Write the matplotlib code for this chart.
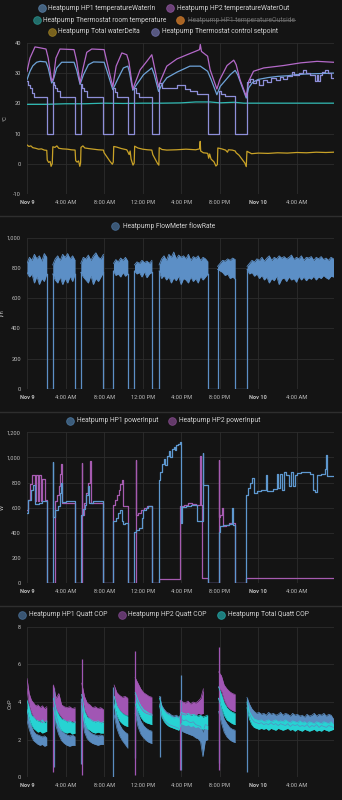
import numpy as np
import matplotlib
matplotlib.use("Agg")
import matplotlib.pyplot as plt
from matplotlib.lines import Line2D

plt.rcParams['font.family'] = ['Roboto', 'DejaVu Sans']

# ------------------------------------------------------------------ data
x_end_hours = 31.8
x_tick_hours = [0, 4, 8, 12, 16, 20, 24, 28]
x_tick_labels = ["Nov 9", "4:00 AM", "8:00 AM", "12:00 PM", "4:00 PM", "8:00 PM", "Nov 10", "4:00 AM"]
x_tick_bold = ["Nov 9", "Nov 10"]

# ---- panel 1: temperatures (°C)
temp_names = ["Heatpump HP1 temperatureWaterIn", "Heatpump HP2 temperatureWaterOut",
              "Heatpump Thermostat room temperature", "Heatpump HP1 temperatureOutside",
              "Heatpump Total waterDelta", "Heatpump Thermostat control setpoint"]
temp_hidden = ["Heatpump HP1 temperatureOutside"]
temp_yticks = [-10, 0, 10, 20, 30, 40]

water_in_t = [0, 0.31, 0.6, 1.0, 1.35, 1.97, 2.2, 2.56, 2.7, 3.08, 3.6, 4.88, 5.16, 5.51, 5.85, 6.37, 6.9,
              8.0, 8.28, 8.9, 9.4, 10.0, 10.46, 10.62, 10.98, 11.4, 12.1, 12.95, 13.2, 13.65, 14.0, 14.5,
              15.55, 16.9, 17.98, 18.74, 19.1, 19.7, 20.05, 21.1, 21.6, 21.85, 22.75, 23.0, 23.4, 24.0,
              25.0, 26.0, 27.0, 28.0, 29.0, 30.0, 31.0, 31.8]
water_in_v = [27.9, 30.7, 32.5, 33.7, 34.0, 33.8, 31.8, 26.8, 27.5, 31.8, 33.7, 33.7, 31.0, 26.3, 29.5, 32.9, 33.8,
              33.7, 31.0, 24.6, 28.0, 31.8, 32.4, 30.5, 24.4, 26.4, 29.6, 31.8, 29.6, 24.0, 26.3, 28.5,
              30.4, 32.4, 32.4, 30.7, 28.0, 22.9, 25.7, 29.6, 31.0, 29.6, 21.8, 25.2, 27.0, 28.0,
              28.6, 29.0, 29.2, 29.6, 29.8, 29.9, 30.0, 30.1]

water_out_t = [0, 0.31, 0.83, 1.35, 1.97, 2.2, 2.56, 2.74, 3.0, 3.42, 4.88, 5.16, 5.51, 5.78, 6.2, 6.72,
               8.0, 8.28, 8.9, 9.25, 9.84, 10.35, 10.56, 10.98, 11.22, 11.74, 12.43, 12.95, 13.2, 13.65,
               13.9, 14.5, 15.55, 16.6, 17.45, 17.9, 17.98, 18.1, 18.74, 19.0, 19.7, 20.0, 20.75, 21.45,
               21.7, 22.1, 22.75, 23.0, 23.5, 24.55, 26.6, 28.4, 30.1, 31.8]
water_out_v = [30.7, 35.1, 38.8, 38.5, 38.1, 35.1, 27.4, 28.5, 35.1, 38.1, 37.9, 34.0, 26.8, 31.2, 37.0, 38.1,
               37.9, 34.0, 25.5, 32.4, 36.8, 36.2, 34.0, 24.8, 26.8, 31.2, 34.0, 36.2, 32.4, 25.5,
               27.9, 32.4, 34.8, 36.2, 37.3, 37.9, 39.6, 37.3, 35.7, 31.2, 24.8, 27.9, 32.6, 34.4,
               32.9, 27.9, 22.4, 27.4, 30.7, 31.8, 32.6, 33.5, 34.0, 33.7]

room_t = [0, 2, 4, 6, 8, 10, 12, 14, 16, 17.5, 19, 20, 21.5, 22.5, 25, 31.8]
room_v = [19.7, 19.7, 19.9, 19.9, 20.1, 20.0, 20.1, 20.1, 20.2, 20.5, 20.5, 20.2, 20.4, 20.1, 20.1, 20.1]

delta_t = [0.0, 0.2, 0.4, 0.6, 0.9, 1.2, 1.5, 1.8, 2.05, 2.1, 2.25, 2.4, 2.5, 2.62, 2.68, 2.9, 3.1, 3.3,
           3.7, 4.2, 4.6, 4.99, 5.05, 5.2, 5.35, 5.48, 5.56, 5.6, 5.8, 6.0, 6.4, 6.9, 7.4, 7.93, 8.0,
           8.3, 8.6, 8.85, 8.95, 9.0, 9.3, 9.8, 10.35, 10.45, 10.6, 10.7, 10.8, 11.0, 11.12, 11.17, 11.5,
           12.0, 12.5, 12.95, 13.05, 13.3, 13.55, 13.68, 13.72, 14.0, 14.5, 15.5, 16.5, 17.5, 17.9,
           17.97, 18.02, 18.3, 18.6, 18.75, 18.85, 18.95, 19.1, 19.4, 19.6, 19.75, 19.8, 20.2, 20.6,
           20.8, 20.9, 21.3, 21.6, 21.7, 22.0, 22.3, 22.6, 22.75, 22.82, 23.0, 23.3, 24.0, 25.0, 26.0,
           27.0, 28.0, 29.0, 30.0, 31.0, 31.8]
delta_v = [6.2, 5.7, 5.9, 5.3, 5.1, 4.8, 4.9, 4.5, 4.4, 1.2, 0.4, 0.7, -0.9, 0.0, 5.6, 5.4, 5.9, 5.1,
           4.9, 4.8, 4.6, 4.5, 1.0, 0.5, 0.9, -0.9, 0.2, 5.4, 5.9, 5.2, 5.0, 4.8, 4.6, 4.5, 3.6,
           2.2, 0.8, -0.2, 0.5, 5.7, 5.5, 5.0, 4.6, 4.0, 3.0, 4.2, 1.5, -0.5, 0.2, 5.8, 5.2,
           4.8, 4.6, 4.5, 3.0, 1.5, 0.0, -0.5, 5.3, 4.7, 4.5, 4.6, 4.8, 4.6, 4.9,
           7.4, 4.2, 3.6, 3.5, 3.4, 1.8, 3.2, 1.5, 0.6, -0.8, -0.3, 5.2, 4.9, 4.5,
           3.8, 4.6, 4.5, 4.2, 3.6, 2.8, 1.5, 0.2, -1.0, 4.1, 3.8, 3.3, 3.5, 3.4, 3.6,
           3.5, 3.7, 3.6, 3.8, 3.7, 3.8]

setpoint_t = [0.0, 0.12, 0.35, 0.55, 0.75, 2.05, 2.67, 2.8, 2.95, 3.15, 3.4, 4.99, 5.58, 5.75, 5.95, 6.2,
              7.93, 8.97, 9.15, 9.35, 10.46, 11.15, 11.35, 11.6, 12.96, 13.71, 14.0, 15.55, 16.4, 16.9,
              17.6, 18.77, 19.88, 20.1, 20.5, 21.6, 22.8, 23.1, 23.4, 23.8, 24.1, 24.5, 24.9, 25.3, 25.8,
              26.2, 26.6, 27.0, 27.5, 27.7, 28.2, 28.6, 28.9, 29.4, 29.9, 30.05, 30.2, 30.35, 30.6, 30.9,
              31.2, 31.5, 31.8]
setpoint_v = [27.4, 26.0, 25.2, 23.5, 22.2, 10, 27.0, 26.0, 25.0, 24.0, 22.2, 10, 26.5, 25.0, 24.0, 22.3,
              10, 25.3, 23.8, 22.2, 10, 25.0, 23.5, 22.3, 10, 26.8, 25.3, 26.1, 24.7, 24.0,
              23.1, 10, 24.0, 23.0, 22.4, 10, 27.0, 28.0, 26.8, 27.9, 26.3, 27.9, 27.0, 28.5, 27.8,
              28.8, 28.2, 29.0, 30.4, 29.5, 30.2, 31.0, 30.2, 29.5, 27.5, 29.5, 27.5, 29.6, 30.5, 31.2,
              30.0, 28.5, 28.5]

# ---- panel 2: flow rate (l/h) — on-periods as min/max envelopes of the noisy trace
flow_name = "Heatpump FlowMeter flowRate"
flow_yticks = [0, 200, 400, 600, 800, 1000]
flow_off_value = 0
flow_spans = [(0.0, 2.05), (2.67, 4.99), (5.58, 7.93), (8.97, 10.46), (11.15, 12.96),
              (13.71, 18.77), (19.77, 21.6), (22.83, 31.8)]
flow_hi = [
    [830, 870, 850, 890, 860, 880, 845, 895, 870],
    [820, 860, 880, 850, 890, 870, 895, 860, 880, 850],
    [830, 870, 860, 885, 850, 880, 900, 870, 860, 890],
    [830, 855, 840, 865, 850, 870, 845],
    [820, 840, 830, 850, 835, 845, 830, 850],
    [820, 860, 880, 850, 890, 870, 905, 860, 885, 870, 880, 860, 890, 850, 875, 865, 880, 850, 870, 860, 840],
    [810, 830, 850, 845, 860, 850, 865, 855],
    [810, 830, 850, 840, 860, 850, 870, 845, 865, 880, 850, 870, 860, 880, 865, 875, 860, 870,
     885, 855, 870, 860, 880, 850, 870, 865, 875, 850, 870, 860, 875, 855, 865, 850, 870, 860],
]
flow_lo = [
    [770, 740, 760, 700, 745, 690, 730, 710, 760],
    [760, 720, 700, 740, 690, 730, 700, 745, 710, 760],
    [770, 740, 720, 700, 750, 690, 730, 710, 740, 770],
    [780, 750, 760, 740, 770, 745, 760],
    [780, 760, 770, 740, 775, 735, 760, 770],
    [780, 730, 750, 720, 740, 700, 735, 715, 745, 690, 730, 720, 700, 740, 710, 730, 700, 745, 720, 740, 760],
    [790, 780, 770, 750, 760, 730, 740, 725],
    [790, 760, 770, 745, 760, 730, 750, 720, 740, 700, 730, 715, 745, 690, 725, 735, 710, 740,
     720, 730, 705, 745, 720, 740, 715, 735, 725, 745, 720, 740, 730, 750, 735, 725, 745, 740],
]

# ---- panel 3: power input (W)
power_names = ["Heatpump HP1 powerInput", "Heatpump HP2 powerInput"]
power_yticks = [0, 200, 400, 600, 800, 1000, 1200]
hp1_power_t = [0.0, 0.15, 0.45, 0.65, 0.83, 1.2, 1.6, 2.05, 2.67, 2.72, 2.9, 3.2, 3.45, 3.55, 3.62, 4.0,
               4.5, 4.99, 5.58, 5.8, 6.0, 6.15, 6.3, 6.4, 6.8, 7.3, 7.93, 8.97, 9.2, 9.4, 9.7, 9.85, 10.0,
               10.2, 10.46, 11.15, 11.3, 11.6, 11.9, 12.0, 12.3, 12.6, 12.96, 13.71, 13.85, 14.0, 14.2,
               14.35, 14.5, 14.7, 14.85, 15.0, 15.25, 15.4, 15.5, 15.7, 15.85, 15.95, 16.05, 16.5, 17.0,
               17.6, 18.25, 18.3, 18.77, 19.88, 20.0, 20.3, 20.6, 21.0, 21.27, 21.33, 21.6, 22.75, 22.9,
               23.1, 23.3, 23.5, 23.6, 23.9, 24.3, 24.8, 24.85, 25.5, 25.9, 26.0, 26.3, 26.5, 26.7, 26.9,
               27.2, 27.4, 27.6, 27.8, 28.0, 28.4, 29.0, 29.4, 29.7, 29.9, 30.1, 30.5, 30.9, 31.05, 31.15,
               31.8]
hp1_power_v = [555, 660, 740, 780, 630, 640, 650, 0, 965, 525, 580, 610, 715, 795, 645, 655,
               650, 0, 540, 590, 620, 700, 770, 640, 655, 650, 0, 490, 520, 555, 580, 490, 470,
               475, 0, 410, 420, 435, 520, 580, 600, 615, 0, 820, 880, 950, 985,
               940, 1010, 1050, 1000, 1070, 1085, 1060, 1100, 1110, 1120, 475, 605, 615, 625,
               490, 1035, 780, 0, 410, 450, 460, 465, 470, 600, 465, 0, 700, 760,
               800, 835, 760, 720, 730, 740, 860, 735, 745, 870, 760, 870, 740, 880, 860,
               770, 880, 770, 860, 875, 885, 880, 870, 740, 725, 860, 870, 910, 1020, 850,
               850]
hp2_power_t = [0.0, 0.1, 0.3, 0.5, 0.85, 0.9, 1.15, 1.2, 1.5, 1.55, 1.85, 2.05, 2.9, 3.1, 3.3, 3.45,
               3.55, 3.65, 4.99, 5.68, 5.73, 5.95, 6.15, 6.35, 6.5, 6.55, 6.65, 7.93, 8.97, 9.1, 9.3,
               9.5, 9.7, 9.85, 9.95, 10.46, 11.27, 11.32, 11.5, 11.8, 12.1, 12.4, 12.96, 13.71, 15.9,
               16.3, 16.7, 17.1, 17.5, 17.97, 18.02, 18.2, 18.77, 19.88, 19.93, 20.05, 20.2, 20.3, 20.6,
               21.0, 21.6, 22.75, 31.8]
hp2_power_v = [580, 660, 790, 860, 650, 860, 650, 860, 650, 830, 660, 0, 650, 700, 770, 870,
               945, 640, 0, 955, 545, 640, 720, 800, 880, 970, 640, 0, 620, 660, 700,
               740, 790, 820, 610, 0, 980, 540, 560, 580, 600, 615, 0, 35, 610,
               625, 640, 630, 620, 1010, 620, 37, 0, 980, 525, 540, 595, 450, 465,
               475, 0, 37, 37]

# ---- panel 4: COP — on-periods as min/max envelopes, plus start-up spikes
cop_names = ["Heatpump HP1 Quatt COP", "Heatpump HP2 Quatt COP", "Heatpump Total Quatt COP"]
cop_yticks = [0, 2, 4, 6, 8]
hp1_cop_spans = [(0.0, 2.05), (2.74, 4.99), (5.68, 7.93), (9.04, 10.46), (11.22, 12.96),
                 (13.75, 18.75), (19.88, 21.6), (22.82, 31.8)]
hp1_cop_hi = [
    [3.60, 3.10, 2.70, 2.45, 2.30, 2.25, 2.20, 2.15, 2.20, 2.10],
    [4.50, 3.30, 2.80, 2.45, 2.35, 2.25, 2.20, 2.25, 2.15],
    [4.00, 2.90, 2.55, 2.40, 2.30, 2.25, 2.20, 2.25, 2.20],
    [3.90, 3.20, 2.80, 2.55, 2.40, 2.30],
    [4.00, 3.40, 3.00, 2.75, 2.60, 2.50, 2.45],
    [4.30, 3.80, 3.60, 3.45, 3.40, 3.30, 3.25, 3.30, 3.20, 3.10, 3.00, 3.05, 2.95, 2.90, 2.95, 2.80,
     2.75, 2.70, 2.40, 2.80, 2.75],
    [4.20, 3.60, 3.10, 2.85, 2.65, 2.55, 2.50],
    [4.25, 3.90, 3.65, 3.50, 3.40, 3.45, 3.35, 3.40, 3.30, 3.45, 3.35, 3.40, 3.30, 3.35, 3.45, 3.30,
     3.40, 3.35, 3.25, 3.40, 3.30, 3.35, 3.25, 3.30, 3.20, 3.35, 3.25, 3.30, 3.40, 3.25, 3.35, 3.30,
     3.40, 3.25, 3.35, 3.30, 3.10],
]
hp1_cop_lo = [
    [3.00, 2.55, 2.20, 1.95, 1.85, 1.75, 1.70, 1.75, 1.65, 1.70],
    [3.80, 2.70, 2.25, 1.95, 1.80, 1.70, 1.65, 1.70, 1.70],
    [3.30, 2.40, 2.05, 1.90, 1.80, 1.75, 1.70, 1.75, 1.75],
    [3.30, 2.60, 2.20, 1.95, 1.75, 1.55],
    [3.40, 2.70, 2.30, 2.10, 1.95, 1.85, 1.80],
    [3.90, 3.30, 3.05, 2.90, 2.80, 2.75, 2.70, 2.65, 2.60, 2.50, 2.40, 2.35, 2.30, 2.25, 2.20, 2.10,
     2.05, 1.90, 1.10, 1.95, 2.00],
    [3.50, 2.90, 2.40, 2.15, 2.00, 1.90, 1.85],
    [3.90, 3.40, 3.10, 2.95, 2.90, 2.85, 2.90, 2.80, 2.85, 2.80, 2.90, 2.80, 2.85, 2.75, 2.85, 2.80,
     2.75, 2.85, 2.70, 2.80, 2.75, 2.80, 2.70, 2.75, 2.70, 2.80, 2.65, 2.75, 2.70, 2.80, 2.65, 2.75,
     2.70, 2.65, 2.75, 2.70, 2.65],
]
hp1_cop_spike_t = [2.78, 5.62, 8.97, 11.2, 13.75, 15.93, 19.93, 22.82]
hp1_cop_spike_lo = [0.55, 0.7, 0.03, 1.0, 1.1, 0.4, 0.74, 0.3]
hp1_cop_spike_hi = [4.75, 4.2, 4.8, 3.8, 4.3, 5.43, 4.2, 4.2]

hp2_cop_spans = [(0.0, 2.05), (2.74, 4.99), (5.68, 7.93), (9.04, 10.46), (11.22, 12.96),
                 (15.9, 18.3), (19.88, 21.6)]
hp2_cop_hi = [
    [5.25, 4.45, 4.10, 3.95, 3.80, 3.85, 3.70, 3.80, 3.65, 3.75],
    [4.90, 4.20, 4.45, 3.85, 3.75, 3.70, 3.75, 3.65, 3.70],
    [5.00, 4.30, 3.95, 3.85, 3.70, 3.75, 3.65, 3.70, 3.60],
    [4.90, 4.50, 4.35, 4.25, 4.30, 4.20],
    [5.30, 5.00, 4.70, 4.50, 4.40, 4.30, 4.25],
    [4.10, 4.00, 3.95, 4.05, 3.90, 4.00, 3.95, 4.05, 4.20, 4.70],
    [5.60, 5.40, 4.90, 4.70, 4.55, 4.45, 4.40],
]
hp2_cop_lo = [
    [4.70, 3.80, 3.45, 3.20, 3.10, 3.00, 3.05, 2.90, 3.00, 2.95],
    [4.20, 3.60, 3.40, 3.20, 3.05, 3.00, 2.95, 3.00, 2.90],
    [4.40, 3.60, 3.30, 3.10, 3.00, 2.95, 3.00, 2.90, 2.95],
    [4.30, 3.80, 3.60, 3.45, 3.35, 3.30],
    [4.40, 4.00, 3.70, 3.50, 3.40, 3.35, 3.30],
    [3.40, 3.35, 3.30, 3.40, 3.30, 3.35, 3.30, 3.40, 3.35, 3.40],
    [4.80, 4.60, 4.10, 3.80, 3.65, 3.55, 3.50],
]
hp2_cop_spike_t = [2.67, 5.68, 11.22, 15.9, 19.88]
hp2_cop_spike_lo = [0.3, 0.12, 0.12, 0.4, 0.39]
hp2_cop_spike_hi = [4.9, 6.27, 6.72, 4.1, 6.94]

tot_cop_spans = hp1_cop_spans
tot_cop_hi = [
    [4.10, 3.70, 3.30, 3.20, 3.05, 3.00, 2.95, 3.05, 2.90, 3.00],
    [4.20, 3.60, 3.30, 3.10, 3.05, 2.95, 3.00, 2.90, 2.95],
    [4.40, 3.50, 3.20, 3.10, 3.00, 2.95, 3.00, 2.90, 2.95],
    [4.30, 3.80, 3.55, 3.40, 3.30, 3.25],
    [4.50, 4.10, 3.80, 3.60, 3.50, 3.40, 3.35],
    [4.20, 3.70, 3.50, 3.35, 3.30, 3.20, 3.15, 3.20, 3.10, 3.45, 3.40, 3.35, 3.40, 3.30, 3.35, 3.30,
     3.25, 3.30, 3.20, 3.25, 3.30],
    [4.80, 4.40, 3.95, 3.70, 3.55, 3.45, 3.40],
    [4.00, 3.50, 3.25, 3.10, 3.05, 3.00, 3.05, 2.95, 3.00, 3.05, 2.95, 3.00, 3.05, 2.95, 3.00, 2.95,
     3.05, 2.95, 2.90, 3.00, 2.95, 2.90, 3.00, 2.90, 2.95, 2.85, 2.95, 2.90, 2.85, 2.95, 2.90, 2.85,
     2.95, 2.90, 2.85, 2.95, 2.80],
]
tot_cop_lo = [
    [3.60, 3.10, 2.80, 2.60, 2.50, 2.40, 2.45, 2.35, 2.40, 2.45],
    [3.70, 3.00, 2.70, 2.50, 2.40, 2.35, 2.40, 2.30, 2.35],
    [3.80, 2.90, 2.60, 2.50, 2.40, 2.35, 2.40, 2.35, 2.35],
    [3.80, 3.30, 3.00, 2.85, 2.75, 2.70],
    [3.90, 3.50, 3.20, 3.00, 2.90, 2.85, 2.80],
    [3.80, 3.20, 2.95, 2.80, 2.70, 2.65, 2.60, 2.55, 2.50, 2.85, 2.80, 2.75, 2.80, 2.70, 2.75, 2.65,
     2.70, 2.60, 2.55, 2.60, 2.55],
    [4.20, 3.70, 3.30, 3.05, 2.95, 2.85, 2.80],
    [3.70, 3.10, 2.80, 2.65, 2.60, 2.55, 2.60, 2.55, 2.60, 2.50, 2.60, 2.55, 2.50, 2.60, 2.55, 2.50,
     2.55, 2.60, 2.50, 2.55, 2.45, 2.55, 2.50, 2.45, 2.55, 2.50, 2.45, 2.50, 2.55, 2.45, 2.50, 2.45,
     2.55, 2.50, 2.45, 2.50, 2.55],
]

# ------------------------------------------------------------------ style
W, H = 342, 800
BG = "#141414"
GRID = "#2c2c2c"
SEP = "#2e2e2e"
TICK = "#bdbdbd"
LEG = "#d0d0d0"
C_IN, C_OUT, C_ROOM, C_OUTSIDE = "#6ea3d8", "#b469c9", "#2fb8b2", "#d07a2a"
C_DELTA, C_SET = "#c9a227", "#8e8fd9"
C_FLOW = "#5c8fc6"
C_P1, C_P2 = "#5e98cf", "#a65bb0"
C_COP1, C_COP2, C_COPT = "#5a8cc0", "#a156b4", "#27d3d3"

fig = plt.figure(figsize=(W / 100, H / 100), dpi=100)
fig.patch.set_facecolor(BG)
renderer = fig.canvas.get_renderer()


def fit_size(text, target_px, weight="normal", base=5.0):
    t = fig.text(0, 0, text, fontsize=base, fontweight=weight)
    w = t.get_window_extent(renderer).width
    t.remove()
    return base * target_px / w


LEG_FS = fit_size(temp_names[0], 110.0)
TICK_FS = fit_size("12:00 PM", 24.5)

AX_L, AX_R = 27.0, 333.5


def make_axes(top, bottom, ylim, yticks):
    ax = fig.add_axes([AX_L / W, 1 - bottom / H, (AX_R - AX_L) / W, (bottom - top) / H])
    ax.set_facecolor(BG)
    for s in ax.spines.values():
        s.set_visible(False)
    ax.set_xlim(0, x_end_hours)
    ax.set_ylim(*ylim)
    ax.set_xticks(x_tick_hours)
    ax.set_xticklabels(x_tick_labels)
    for lab in ax.get_xticklabels():
        if lab.get_text() in x_tick_bold:
            lab.set_fontweight("bold")
    ax.set_yticks(yticks)
    ax.set_yticklabels([f"{v:,}" for v in yticks])
    ax.tick_params(length=0, colors=TICK, labelsize=TICK_FS)
    ax.tick_params(axis="x", pad=4.2)
    ax.tick_params(axis="y", pad=4.4)
    ax.grid(True, color=GRID, lw=0.6)
    ax.set_axisbelow(True)
    return ax


def fig_xy(xp, yp):
    return xp / W, 1 - yp / H


def legend_item(xc, xt, y, color, label, hidden=False):
    fx, fy = fig_xy(xc, y)
    fig.add_artist(Line2D([fx], [fy], marker="o", markersize=5.6, transform=fig.transFigure,
                          markerfacecolor=color, markeredgecolor=color, alpha=0.55 if not hidden else 0.8,
                          markeredgewidth=0.6, linestyle="none"))
    tx, ty = fig_xy(xt, y)
    t = fig.text(tx, ty, label, fontsize=LEG_FS, color=("#6c6c6c" if hidden else LEG),
                 va="center", ha="left")
    if hidden:
        bb = t.get_window_extent(renderer)
        fig.add_artist(Line2D([bb.x0 / W, bb.x1 / W], [ty, ty], transform=fig.transFigure,
                              color="#6c6c6c", lw=0.6))


def ylabel(x, y, text):
    fx, fy = fig_xy(x, y)
    fig.text(fx, fy, text, rotation=90, fontsize=TICK_FS, color=TICK, ha="center", va="center")


def separator(y):
    fy = 1 - y / H
    fig.add_artist(Line2D([0, 1], [fy, fy], transform=fig.transFigure, color=SEP, lw=1.0))


LW = 0.9

# ---------------- panel 1
ax1 = make_axes(43.3, 193.7, (-10, 40), temp_yticks)
ax1.plot(water_in_t, water_in_v, color=C_IN, lw=LW)
ax1.plot(water_out_t, water_out_v, color=C_OUT, lw=LW)
ax1.plot(room_t, room_v, color=C_ROOM, lw=LW)
ax1.plot(delta_t, delta_v, color=C_DELTA, lw=LW)
ax1.step(setpoint_t, setpoint_v, where="post", color=C_SET, lw=LW)
ylabel(5, 118, "°C")

legend_item(41.7, 48.3, 8.0, C_IN, temp_names[0])
legend_item(170.0, 176.7, 8.0, C_OUT, temp_names[1])
legend_item(36.7, 42.7, 20.0, C_ROOM, temp_names[2])
legend_item(180.0, 188.3, 20.0, C_OUTSIDE, temp_names[3], hidden=temp_names[3] in temp_hidden)
legend_item(51.7, 58.3, 31.7, C_DELTA, temp_names[4])
legend_item(155.0, 161.7, 31.7, C_SET, temp_names[5])

separator(216)

# ---------------- panel 2
ax2 = make_axes(237.7, 388.7, (0, 1000), flow_yticks)
for (s, e), hi, lo in zip(flow_spans, flow_hi, flow_lo):
    t = np.linspace(s, e, len(hi))
    ax2.fill_between(t, lo, hi, color=C_FLOW, lw=0)
    ax2.plot(t, hi, color=C_FLOW, lw=0.6)
    ax2.plot(t, lo, color=C_FLOW, lw=0.6)
for i in range(len(flow_spans) - 1):
    e = flow_spans[i][1]
    s = flow_spans[i + 1][0]
    ax2.plot([e, e, s, s], [flow_lo[i][-1], flow_off_value, flow_off_value, flow_lo[i + 1][0]],
             color=C_FLOW, lw=LW)
ylabel(2, 313, "l/h")
legend_item(115.0, 122.7, 225.7, C_FLOW, flow_name)

separator(411.7)

# ---------------- panel 3
ax3 = make_axes(432.3, 583.0, (0, 1200), power_yticks)
ax3.step(hp2_power_t, hp2_power_v, where="post", color=C_P2, lw=LW)
ax3.step(hp1_power_t, hp1_power_v, where="post", color=C_P1, lw=LW)
ylabel(2, 507, "W")
legend_item(70.0, 77.3, 420.7, C_P1, power_names[0])
legend_item(172.0, 179.3, 420.7, C_P2, power_names[1])

separator(606)

# ---------------- panel 4
ax4 = make_axes(626.7, 777.3, (0, 8), cop_yticks)
series = [
    (hp1_cop_spans, hp1_cop_hi, hp1_cop_lo, C_COP1, (hp1_cop_spike_t, hp1_cop_spike_lo, hp1_cop_spike_hi)),
    (hp2_cop_spans, hp2_cop_hi, hp2_cop_lo, C_COP2, (hp2_cop_spike_t, hp2_cop_spike_lo, hp2_cop_spike_hi)),
    (tot_cop_spans, tot_cop_hi, tot_cop_lo, C_COPT, None),
]
for spans, his, los, col, spikes in series:
    for (s, e), hi, lo in zip(spans, his, los):
        t = np.linspace(s, e, len(hi))
        ax4.fill_between(t, lo, hi, color=col, lw=0)
        ax4.plot(t, hi, color=col, lw=0.5)
        ax4.plot(t, lo, color=col, lw=0.5)
    if spikes is not None:
        ax4.vlines(spikes[0], spikes[1], spikes[2], color=col, lw=0.9)
ylabel(10, 704, "CoP")
legend_item(22.0, 28.7, 615.0, C_COP1, cop_names[0])
legend_item(122.0, 128.3, 615.0, C_COP2, cop_names[1])
legend_item(220.7, 227.7, 615.0, C_COPT, cop_names[2])

fig.savefig("out.png", dpi=100, facecolor=BG)
